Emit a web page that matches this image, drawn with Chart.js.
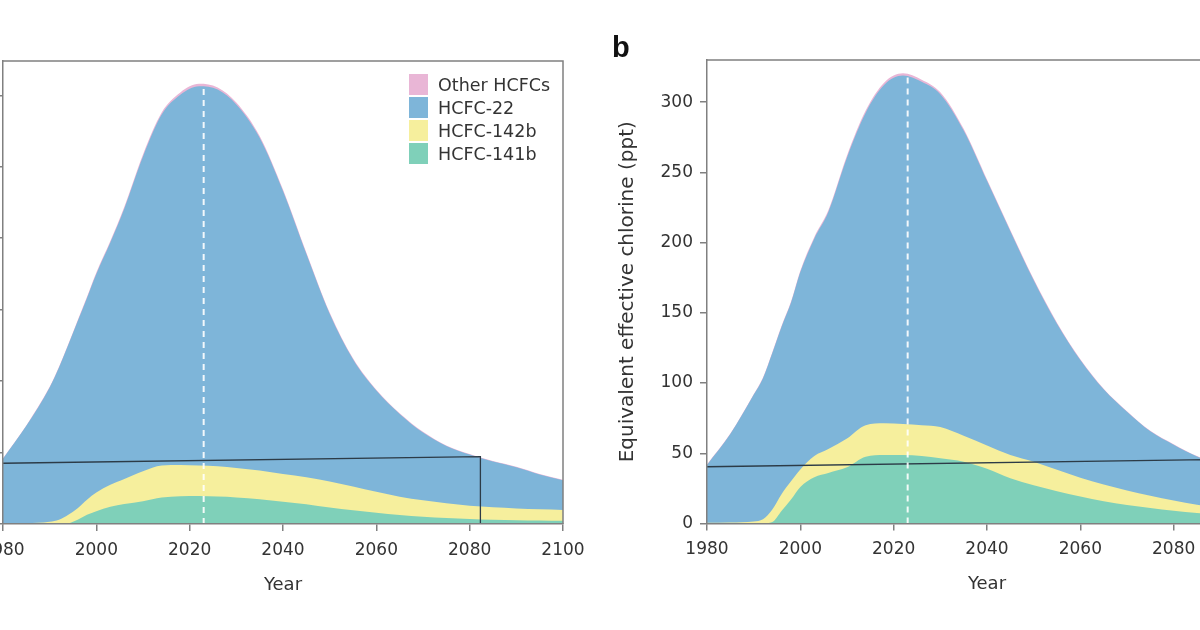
<!DOCTYPE html>
<html>
<head>
<meta charset="utf-8">
<script src="https://cdn.jsdelivr.net/npm/chart.js@4.4.0/dist/chart.umd.min.js"></script>
<style>
  html, body { margin: 0; padding: 0; background: #fff; overflow: hidden; }
  #page { position: relative; width: 1200px; height: 630px; overflow: hidden; font-family: 'DejaVu Sans', sans-serif; color: #333; }
  #chartA { position: absolute; left: -107px; top: 0; }
  #chartB { position: absolute; left: 600px; top: 0; }
  .panel-label { position: absolute; left: 612px; top: 33px; font: bold 29px 'Liberation Sans', Arial, sans-serif; color: #111; line-height: 1; }
  #legend { position: absolute; left: 409px; top: 73px; }
  #legend .row { display: flex; align-items: center; height: 23px; }
  #legend .swatch { width: 19px; height: 21px; margin-right: 10px; }
  #legend span { font-size: 17.5px; color: #333; }
</style>
</head>
<body>
<div id="page">
  <canvas id="chartA" width="705" height="630"></canvas>
  <canvas id="chartB" width="700" height="630"></canvas>
  <div id="legend"></div>
  <div class="panel-label">b</div>
</div>
<script>
// shared x values (year)
var years = [1980, 1985, 1990, 1992, 1994, 1996, 1998, 2000, 2003, 2006, 2010, 2014, 2018, 2022, 2026,
             2030, 2035, 2040, 2045, 2050, 2055, 2060, 2065, 2070, 2075, 2080, 2085, 2090, 2095, 2100];
var yearTicks = [1980, 2000, 2020, 2040, 2060, 2080, 2100];
var pptTicks = [0, 50, 100, 150, 200, 250, 300];

// stacking order, bottom to top
var seriesNames = ['HCFC-141b', 'HCFC-142b', 'HCFC-22', 'Other HCFCs'];
var seriesColors = ['#7fd0b9', '#f6ef9d', '#7eb5d9', '#e9b6d6'];

// panel a
var a141b = [0, 0, 0, 0, 0.5, 3, 6.5, 9, 12, 14, 16, 18.5, 19.5, 19.6, 19.2,
             18.6, 17.3, 15.6, 13.9, 11.5, 9.6, 7.8, 6.3, 5.1, 4.2, 3.5, 3.0, 2.7, 2.5, 2.3];
var a142b = [0.3, 0.5, 1.5, 3, 6, 8, 10.5, 13, 15.5, 17.5, 21, 22.5, 21.8, 21.4, 21.3,
             20.6, 20.2, 19.4, 18.9, 18.3, 16.7, 14.7, 12.8, 11.5, 10.3, 9.3, 8.7, 8.2, 7.8, 7.5];
var a22 = [45.4, 68.2, 94.1, 106.5, 118.9, 130.9, 141.2, 153, 169.5, 189.3, 220.2, 245.5, 259.1, 265.4, 263.5,
           254.4, 232.8, 198, 156.3, 117.4, 89, 70.9, 57.9, 47.4, 40.1, 35.8, 32, 28.8, 24.4, 20.9];
var aOther = [0.3, 0.3, 0.4, 0.5, 0.6, 0.7, 0.8, 1, 1, 1.2, 1.4, 1.5, 1.6, 1.6, 1.5,
              1.4, 1.2, 1, 0.9, 0.8, 0.7, 0.6, 0.5, 0.5, 0.4, 0.4, 0.3, 0.3, 0.3, 0.3];
var aRefYears = [1980, 2082.3, 2082.3];
var aRefValues = [42.5, 47.1, 0];

// panel b, equivalent effective chlorine
var b141b = [0, 0, 0, 0, 1, 9, 17, 26, 33, 36, 40, 47.5, 48.7, 48.7, 48,
             46.5, 44, 39, 32.3, 27.2, 23, 19.2, 15.8, 13.2, 11, 9, 7.4, 6.2, 5.2, 4.3];
var b142b = [0.5, 0.8, 1.5, 3, 9, 12, 13, 12.5, 15, 17, 20.5, 22.5, 22.6, 22.1, 22,
             22.2, 18.5, 16.5, 16.5, 16.8, 15.3, 13.4, 12, 10.3, 8.8, 7.4, 6, 4.8, 3.8, 3.1];
var b22 = [41.2, 62.9, 90.1, 100.5, 111.4, 119.3, 127.2, 140.5, 155, 168.8, 200.1, 222.5, 241.1, 248.1, 244.5,
           236.9, 217.3, 188.5, 159.3, 129.2, 104, 83.8, 67.7, 56, 45.8, 39.7, 34.3, 30.7, 27.7, 25.3];
var bOther = [0.3, 0.3, 0.4, 0.5, 0.6, 0.7, 0.8, 1, 1, 1.2, 1.4, 1.5, 1.6, 1.6, 1.5,
              1.4, 1.2, 1, 0.9, 0.8, 0.7, 0.6, 0.5, 0.5, 0.4, 0.4, 0.3, 0.3, 0.3, 0.3];
var bRefYears = [1980, 2087, 2087];
var bRefValues = [40.4, 45.5, 0];

var presentYear = 2023;
var aPresentTop = 307;
var bPresentTop = 319;

var FONT = "'DejaVu Sans', sans-serif";
var axisColor = '#808080';
var textColor = '#333';

function pts(xs, ys) {
    return xs.map(function (x, i) { return { x: x, y: ys[i] }; });
}

// top and right edges of the box round the plot
var framePlugin = {
    id: 'frame',
    afterDatasetsDraw: function (chart) {
        var a = chart.chartArea, ctx = chart.ctx;
        ctx.save();
        ctx.strokeStyle = axisColor;
        ctx.lineWidth = 1.5;
        ctx.beginPath();
        ctx.moveTo(a.left, a.top);
        ctx.lineTo(a.right, a.top);
        ctx.lineTo(a.right, a.bottom);
        ctx.stroke();
        ctx.restore();
    }
};

function drawPanel(id, layers, refYears, refValues, presentTop, p) {
    var ctx = document.getElementById(id).getContext('2d');

    var datasets = layers.map(function (vals, i) {
        return {
            label: seriesNames[i],
            data: pts(years, vals),
            backgroundColor: seriesColors[i],
            borderColor: seriesColors[i],
            borderWidth: 0,
            pointRadius: 0,
            fill: 'origin',
            cubicInterpolationMode: 'monotone',
            stack: 'hcfc',
            order: i + 1
        };
    });
    datasets.push({
        label: 'reference',
        data: pts(refYears, refValues),
        borderColor: '#2c3b47',
        borderWidth: 1.3,
        pointRadius: 0,
        fill: false,
        stack: 'ref',
        order: 0
    });
    datasets.push({
        label: 'present',
        data: pts([presentYear, presentYear], [0, presentTop]),
        borderColor: 'rgba(255,255,255,0.9)',
        borderWidth: 2,
        borderDash: [6, 5],
        pointRadius: 0,
        fill: false,
        stack: 'now',
        order: -1
    });

    new Chart(ctx, {
        type: 'line',
        data: { datasets: datasets },
        options: {
            responsive: false,
            animation: false,
            layout: { padding: { top: p.top, bottom: p.bottom, left: 0, right: p.right } },
            plugins: { legend: { display: false }, tooltip: { enabled: false } },
            scales: {
                x: {
                    type: 'linear',
                    min: 1980,
                    max: 2100,
                    afterBuildTicks: function (s) { s.ticks = yearTicks.map(function (v) { return { value: v }; }); },
                    afterFit: function (s) { s.height = 76; },
                    grid: { drawOnChartArea: false, tickLength: 7, color: axisColor, lineWidth: 1.5 },
                    border: { color: axisColor, width: 1.5, z: 1 },
                    ticks: {
                        color: textColor, padding: 9, maxRotation: 0,
                        font: { family: FONT, size: 17 },
                        callback: function (v) { return String(v); }
                    },
                    title: { display: true, text: 'Year', color: textColor, font: { family: FONT, size: 18 } }
                },
                y: {
                    stacked: true,
                    min: 0,
                    max: p.yMax,
                    afterBuildTicks: function (s) { s.ticks = pptTicks.map(function (v) { return { value: v }; }); },
                    afterFit: function (s) { s.width = p.yWidth; },
                    grid: { drawOnChartArea: false, tickLength: 7, color: axisColor, lineWidth: 1.5 },
                    border: { color: axisColor, width: 1.5, z: 1 },
                    ticks: { color: textColor, padding: 7, font: { family: FONT, size: 17 } },
                    title: {
                        display: !!p.yTitle, text: p.yTitle || '', color: textColor,
                        font: { family: FONT, size: 20 }, padding: { top: 16, bottom: 0 }
                    }
                }
            }
        },
        plugins: [framePlugin]
    });
}

drawPanel('chartA', [a141b, a142b, a22, aOther], aRefYears, aRefValues, aPresentTop,
    { top: 61, bottom: 30, right: 35, yMax: 324, yWidth: 110 });
drawPanel('chartB', [b141b, b142b, b22, bOther], bRefYears, bRefValues, bPresentTop,
    { top: 60, bottom: 30.5, right: 33, yMax: 330, yWidth: 107, yTitle: 'Equivalent effective chlorine (ppt)' });

// legend, top entry first
var legend = document.getElementById('legend');
for (var i = seriesNames.length - 1; i >= 0; i--) {
    var row = document.createElement('div');
    row.className = 'row';
    var sw = document.createElement('div');
    sw.className = 'swatch';
    sw.style.background = seriesColors[i];
    var label = document.createElement('span');
    label.textContent = seriesNames[i];
    row.appendChild(sw);
    row.appendChild(label);
    legend.appendChild(row);
}
</script>
</body>
</html>
